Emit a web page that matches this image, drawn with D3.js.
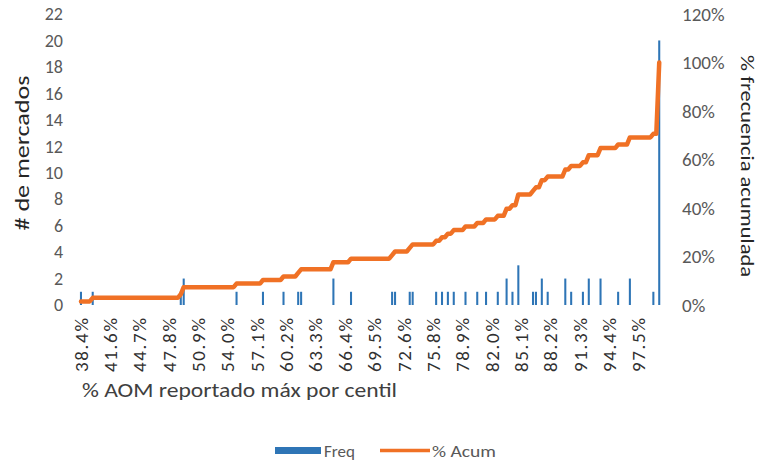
<!DOCTYPE html>
<html><head><meta charset="utf-8">
<script src="https://cdn.jsdelivr.net/npm/d3@7"></script>
<style>
body{margin:0;background:#fff;}
text{font-family:Carlito,Lato,"Open Sans",sans-serif;}
</style></head>
<body><svg id="c" width="759" height="464"></svg>
<script>
// ---- data ----
const binCount = 198; // number of centile bins along the x axis
const tickLabels = ["38.4%","41.6%","44.7%","47.8%","50.9%","54.0%","57.1%","60.2%","63.3%","66.4%",
  "69.5%","72.6%","75.8%","78.9%","82.0%","85.1%","88.2%","91.3%","94.4%","97.5%"];
// non-zero frequencies: [bin index, count]
const freqBins = [0,4,34,35,53,62,69,74,75,86,92,106,107,112,113,121,123,125,127,131,135,138,142,145,147,149,154,155,157,159,165,167,171,173,177,183,187,195,197];
const freqVals = [1,1,1,2,1,1,1,1,1,2,1,1,1,1,1,1,1,1,1,1,1,1,1,2,1,3,1,1,2,1,2,1,1,2,2,1,2,1,20];
const leftTicks = [0,2,4,6,8,10,12,14,16,18,20,22];
const rightTicks = [0,0.2,0.4,0.6,0.8,1.0,1.2];

// build full series
const freq = new Array(binCount).fill(0);
freqBins.forEach((b,k)=>{ freq[b] = freqVals[k]; });
const total = d3.sum(freq);
const acum = d3.cumsum(freq).map(v => v/total);
const idx = d3.range(binCount);

const svg = d3.select("#c");
const x = d3.scaleBand().domain(idx).range([79.5, 660.7]).padding(0);
const yL = d3.scaleLinear().domain([0,22]).range([305,14]);
const yR = d3.scaleLinear().domain([0,1.2]).range([305,14]);
const bw = x.step()*0.7;

// bars
svg.append("g").selectAll("rect").data(idx.filter(i=>freq[i]>0)).join("rect")
  .attr("x", i => x(i) + (x.step()-bw)/2)
  .attr("y", i => yL(freq[i]))
  .attr("width", bw)
  .attr("height", i => yL(0)-yL(freq[i]))
  .attr("fill", "#2E75B6");

// line
svg.append("path").datum(idx)
  .attr("fill","none").attr("stroke","#F07125").attr("stroke-width",4.5)
  .attr("stroke-linejoin","round").attr("stroke-linecap","round")
  .attr("d", d3.line().x(i => x(i)+x.step()/2).y(i => yR(acum[i])));

// left axis
const gl = svg.append("g").attr("transform","translate(63,0)")
  .call(d3.axisLeft(yL).tickValues(leftTicks).tickSize(0).tickPadding(0));
gl.select(".domain").remove();
gl.selectAll("text").attr("font-size",18).attr("fill","#595959").attr("font-family","Carlito,Lato,sans-serif");

// right axis
const gr = svg.append("g").attr("transform","translate(682,0)")
  .call(d3.axisRight(yR).tickValues(rightTicks).tickFormat(d3.format(".0%")).tickSize(0).tickPadding(0));
gr.select(".domain").remove();
gr.selectAll("text").attr("font-size",19).attr("fill","#595959").attr("font-family","Carlito,Lato,sans-serif");

// bottom axis
const tickIdx = tickLabels.map((_,k)=>k*10);
const gb = svg.append("g").attr("transform","translate(0,317)")
  .call(d3.axisBottom(x).tickValues(tickIdx).tickFormat((d,k)=>tickLabels[k]).tickSize(0).tickPadding(0));
gb.select(".domain").remove();
gb.selectAll("text").attr("font-size",19).attr("fill","#303030").attr("font-family","Carlito,Lato,sans-serif")
  .attr("transform","rotate(-90)").attr("text-anchor","end").attr("dy","0.35em").attr("x",-1).attr("y",0)
  .attr("textLength",54).attr("lengthAdjust","spacing");

// titles
svg.append("text").attr("transform","translate(29,153) rotate(-90)").attr("text-anchor","middle")
  .attr("font-size",20).attr("fill","#262626").attr("textLength",155).attr("lengthAdjust","spacingAndGlyphs").text("# de mercados");
svg.append("text").attr("transform","translate(741,166) rotate(90)").attr("text-anchor","middle")
  .attr("font-size",19).attr("fill","#262626").attr("textLength",222).attr("lengthAdjust","spacingAndGlyphs").text("% frecuencia acumulada");
svg.append("text").attr("x",82).attr("y",397)
  .attr("font-size",20).attr("fill","#404040").attr("textLength",315).attr("lengthAdjust","spacingAndGlyphs").text("% AOM reportado máx por centil");

// legend
const lg = svg.append("g");
lg.append("rect").attr("x",275).attr("y",447).attr("width",46).attr("height",7).attr("fill","#2E75B6");
lg.append("text").attr("x",324).attr("y",457).attr("font-size",17).attr("fill","#595959").text("Freq");
lg.append("line").attr("x1",380).attr("x2",430).attr("y1",450.5).attr("y2",450.5).attr("stroke","#F07125").attr("stroke-width",3.5);
lg.append("text").attr("x",432).attr("y",457).attr("font-size",17).attr("fill","#595959").attr("textLength",64).attr("lengthAdjust","spacingAndGlyphs").text("% Acum");
</script></body></html>
